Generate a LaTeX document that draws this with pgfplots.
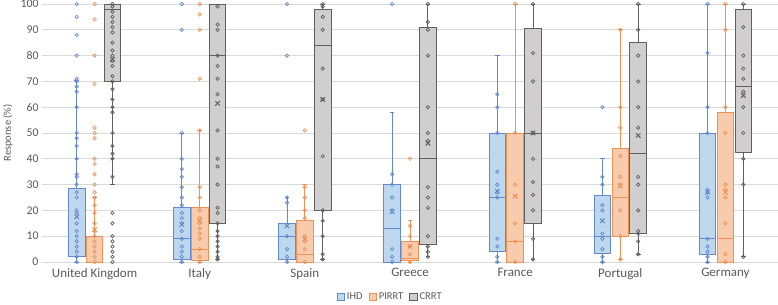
\documentclass[border=0pt]{standalone}
\usepackage{fontspec}
\setmainfont{Carlito}
\usepackage{pgfplots}
\pgfplotsset{compat=1.18}
\usepgfplotslibrary{statistics}
\definecolor{ihdfill}{RGB}{189,215,238}
\definecolor{ihdedge}{RGB}{98,138,204}
\definecolor{pifill}{RGB}{248,203,173}
\definecolor{piedge}{RGB}{238,145,85}
\definecolor{crfill}{RGB}{208,206,206}
\definecolor{credge}{RGB}{96,96,96}
\definecolor{txt}{RGB}{89,89,89}
\definecolor{gridc}{RGB}{217,217,217}
% #1 position, #2 lower whisker, #3 lower quartile, #4 median, #5 upper quartile, #6 upper whisker, #7 fill, #8 edge
\newcommand{\bx}[8]{\addplot[boxplot prepared={draw position=#1, lower whisker=#2, lower quartile=#3, median=#4, upper quartile=#5, upper whisker=#6, box extend=0.158, whisker extend=0.045, draw direction=y}, fill=#7, draw=#8, line width=0.8bp, solid] coordinates {};}
\begin{document}
\begin{tikzpicture}
\begin{axis}[
  scale only axis, width=736bp, height=258bp,
  xmin=-0.5, xmax=6.5, ymin=0, ymax=100,
  xtick={0,...,6},
  xticklabels={United Kingdom,Italy,Spain,Greece,France,Portugal,Germany},
  ytick={0,10,...,100},
  axis line style={draw=none},
  major tick length=0pt,
  ymajorgrids, grid style={gridc, line width=0.8bp},
  /pgf/number format/assume math mode=true,
  tick label style={font=\fontsize{11.8bp}{13bp}\selectfont, text=txt},
  xticklabel style={font=\fontsize{13bp}{15bp}\selectfont, yshift=-3bp},
  ylabel={Response (\%)},
  ylabel style={font=\fontsize{10.5bp}{12bp}\selectfont, text=txt, at={(axis description cs:0,0.5)}, anchor=center, yshift=34bp},
  legend style={at={(axis description cs:0.473,-0.136)}, anchor=center, draw=none, legend columns=3, font=\fontsize{10.5bp}{12bp}\selectfont, text=txt, /tikz/every even column/.append style={column sep=4bp}},
  legend image code/.code={\draw[#1] (0bp,-3.5bp) rectangle (7.5bp,4bp);},
  clip=false,
]
\addlegendimage{fill=ihdfill, draw=ihdedge, line width=0.8bp}
\addlegendentry{IHD}
\addlegendimage{fill=pifill, draw=piedge, line width=0.8bp}
\addlegendentry{PIRRT}
\addlegendimage{fill=crfill, draw=credge, line width=0.8bp}
\addlegendentry{CRRT}

% IHD boxes
\bx{-0.17}{0}{2}{2}{28.5}{70.5}{ihdfill}{ihdedge}
\bx{0.83}{0}{1}{9}{21}{50}{ihdfill}{ihdedge}
\bx{1.83}{0}{1}{10}{15}{25}{ihdfill}{ihdedge}
\bx{2.83}{0}{0}{13}{30}{58}{ihdfill}{ihdedge}
\bx{3.83}{0}{4}{25}{50}{80}{ihdfill}{ihdedge}
\bx{4.83}{0}{3.5}{10}{26}{40}{ihdfill}{ihdedge}
\bx{5.83}{0}{3}{9}{50}{100}{ihdfill}{ihdedge}
% PIRRT boxes
\bx{0}{0}{0}{0}{10}{25}{pifill}{piedge}
\bx{1}{0}{0.5}{5}{21}{51}{pifill}{piedge}
\bx{2}{0}{0}{3}{16}{30}{pifill}{piedge}
\bx{3}{0}{0.5}{1.5}{8}{16}{pifill}{piedge}
\bx{4}{0}{0}{8}{50}{100}{pifill}{piedge}
\bx{5}{1}{10}{25}{44}{90}{pifill}{piedge}
\bx{6}{0}{0}{9}{58}{100}{pifill}{piedge}
% CRRT boxes
\bx{0.17}{30}{70}{98}{100}{100}{crfill}{credge}
\bx{1.17}{1}{15}{80}{100}{100}{crfill}{credge}
\bx{2.17}{1}{20}{84}{98}{100}{crfill}{credge}
\bx{3.17}{2}{7}{40}{91}{100}{crfill}{credge}
\bx{4.17}{1}{15}{50}{90.5}{100}{crfill}{credge}
\bx{5.17}{3}{11}{42}{85}{100}{crfill}{credge}
\bx{6.17}{2}{42.5}{68}{98}{100}{crfill}{credge}

% IHD points
\addplot[only marks, mark=o, mark size=1.7bp, ihdedge, mark options={line width=0.7bp}] coordinates {
(-0.17,100)(-0.17,95)(-0.17,88)(-0.17,80)(-0.17,71)(-0.17,70)(-0.17,68)(-0.17,66)(-0.17,60)(-0.17,50)(-0.17,48)(-0.17,45)(-0.17,40)(-0.17,34)(-0.17,33)(-0.17,30)(-0.17,27)(-0.17,25)(-0.17,20)(-0.17,19)(-0.17,15)(-0.17,12)(-0.17,10)(-0.17,8)(-0.17,6)(-0.17,4)(-0.17,2)(-0.17,0)
(0.83,100)(0.83,90)(0.83,50)(0.83,40)(0.83,36)(0.83,33)(0.83,29)(0.83,25)(0.83,22)(0.83,19)(0.83,17)(0.83,15)(0.83,12)(0.83,9)(0.83,6)(0.83,4)(0.83,2)(0.83,0)
(1.83,100)(1.83,80)(1.83,25)(1.83,23)(1.83,10)(1.83,5)(1.83,2)(1.83,0)
(2.83,100)(2.83,34)(2.83,30)(2.83,25)(2.83,20)(2.83,5)(2.83,2)(2.83,0)
(3.83,65)(3.83,60)(3.83,50)(3.83,35)(3.83,30)(3.83,27)(3.83,25)(3.83,9)(3.83,6)(3.83,2)(3.83,0)
(4.83,60)(4.83,33)(4.83,30)(4.83,22)(4.83,20)(4.83,11)(4.83,9)(4.83,5)(4.83,2)(4.83,0)
(5.83,100)(5.83,81)(5.83,60)(5.83,50)(5.83,28)(5.83,27)(5.83,25)(5.83,9)(5.83,6)(5.83,4)(5.83,2)(5.83,0)
};
% PIRRT points
\addplot[only marks, mark=o, mark size=1.7bp, piedge, mark options={line width=0.7bp}] coordinates {
(0,100)(0,94)(0,80)(0,69)(0,52)(0,50)(0,48)(0,40)(0,38)(0,34)(0,30)(0,27)(0,25)(0,22)(0,19)(0,15)(0,12)(0,10)(0,8)(0,6)(0,4)(0,2)(0,0)
(1,100)(1,96)(1,90)(1,71)(1,51)(1,29)(1,25)(1,20)(1,17)(1,15)(1,13)(1,11)(1,9)(1,5)(1,2)(1,0)
(2,51)(2,29)(2,25)(2,20)(2,17)(2,10)(2,8)(2,5)(2,0)
(3,40)(3,14)(3,10)(3,6)(3,3)(3,0)
(4,100)(4,50)(4,30)(4,15)(4,8)(4,0)
(5,90)(5,60)(5,52)(5,41)(5,33)(5,30)(5,20)(5,10)(5,1)
(6,100)(6,90)(6,60)(6,50)(6,30)(6,28)(6,25)(6,15)(6,3)(6,0)
};
% CRRT points
\addplot[only marks, mark=o, mark size=1.7bp, credge, mark options={line width=0.7bp}] coordinates {
(0.17,100)(0.17,99)(0.17,97)(0.17,95)(0.17,93)(0.17,91)(0.17,89)(0.17,85)(0.17,82)(0.17,80)(0.17,78)(0.17,76)(0.17,72)(0.17,70)(0.17,67)(0.17,63)(0.17,60)(0.17,58)(0.17,50)(0.17,45)(0.17,42)(0.17,40)(0.17,33)(0.17,19)(0.17,15)(0.17,10)(0.17,8)(0.17,6)(0.17,4)(0.17,2)(0.17,0)
(1.17,99)(1.17,92)(1.17,90)(1.17,80)(1.17,76)(1.17,71)(1.17,65)(1.17,51)(1.17,40)(1.17,37)(1.17,30)(1.17,21)(1.17,19)(1.17,15)(1.17,12)(1.17,10)(1.17,8)(1.17,6)(1.17,4)(1.17,2)(1.17,1)
(2.17,100)(2.17,99)(2.17,95)(2.17,90)(2.17,75)(2.17,63)(2.17,41)(2.17,20)(2.17,16)(2.17,10)(2.17,3)(2.17,1)
(3.17,100)(3.17,93)(3.17,90)(3.17,80)(3.17,60)(3.17,50)(3.17,47)(3.17,29)(3.17,25)(3.17,21)(3.17,10)(3.17,6)(3.17,4)(3.17,2)
(4.17,100)(4.17,81)(4.17,70)(4.17,50)(4.17,40)(4.17,31)(4.17,26)(4.17,20)(4.17,9)(4.17,1)
(5.17,100)(5.17,90)(5.17,80)(5.17,70)(5.17,60)(5.17,52)(5.17,33)(5.17,30)(5.17,20)(5.17,12)(5.17,11)(5.17,8)(5.17,3)
(6.17,100)(6.17,91)(6.17,80)(6.17,75)(6.17,71)(6.17,66)(6.17,60)(6.17,50)(6.17,40)(6.17,30)(6.17,2)
};
% means
\addplot[only marks, mark=x, mark size=3.2bp, ihdedge, mark options={line width=1bp}] coordinates {
(-0.17,17.5)(0.83,14.5)(1.83,14)(2.83,19.5)(3.83,27.5)(4.83,16)(5.83,27)};
\addplot[only marks, mark=x, mark size=3.2bp, piedge, mark options={line width=1bp}] coordinates {
(0,12.5)(1,16)(2,9)(3,6)(4,25.5)(5,29.5)(6,27)};
\addplot[only marks, mark=x, mark size=3.2bp, credge, mark options={line width=1bp}] coordinates {
(0.17,78.5)(1.17,61.5)(2.17,63)(3.17,46)(4.17,50)(5.17,49)(6.17,64.5)};
\end{axis}
\pgfresetboundingbox
\path (current axis.south west) ++(-42bp,-43bp) rectangle ++(778bp,305bp);
\end{tikzpicture}
\end{document}
